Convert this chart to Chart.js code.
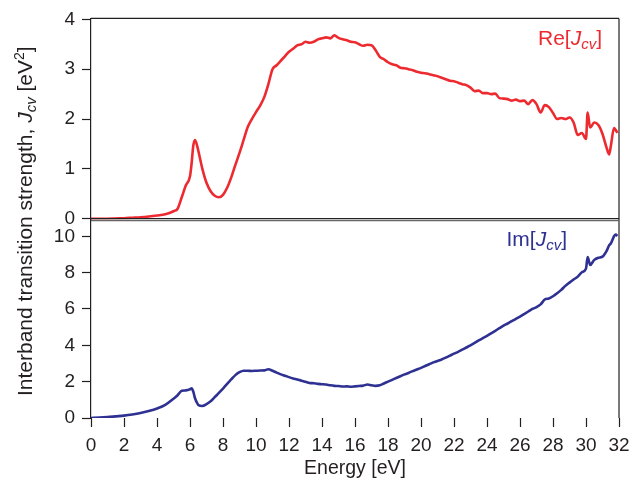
<!DOCTYPE html>
<html>
<head>
<meta charset="utf-8">
<script src="https://cdn.jsdelivr.net/npm/chart.js@4.4.0/dist/chart.umd.min.js"></script>
<style>
  html, body { margin: 0; padding: 0; background: #fff; }
</style>
</head>
<body>
<canvas id="grafico" width="643" height="493"></canvas>
<script>
// Energia [eV] (comun a las dos curvas)
const energia = [
  0, 0.5, 1, 1.5, 2, 2.5, 3, 3.5, 4, 4.5,
  5, 5.25, 5.5, 5.75, 6, 6.1, 6.2, 6.3, 6.4, 6.5,
  6.75, 7, 7.25, 7.5, 7.75, 8, 8.25, 8.5, 8.75, 9,
  9.25, 9.5, 9.75, 10, 10.25, 10.5, 10.75, 11, 11.25, 11.5,
  11.75, 12, 12.25, 12.5, 12.75, 13, 13.25, 13.5, 13.75, 14,
  14.25, 14.5, 14.75, 15, 15.25, 15.5, 15.75, 16, 16.25, 16.5,
  16.75, 17, 17.25, 17.5, 17.75, 18, 18.25, 18.5, 18.75, 19,
  19.25, 19.5, 19.75, 20, 20.25, 20.5, 20.75, 21, 21.25, 21.5,
  21.75, 22, 22.25, 22.5, 22.75, 23, 23.25, 23.5, 23.75, 24,
  24.25, 24.5, 24.75, 25, 25.25, 25.5, 25.75, 26, 26.25, 26.5,
  26.75, 27, 27.25, 27.5, 27.75, 28, 28.25, 28.5, 28.75, 29,
  29.25, 29.5, 29.75, 30, 30.1, 30.25, 30.5, 30.75, 31, 31.25,
  31.4, 31.5, 31.7, 31.8, 31.9
];

// Re[Jcv] [eV^2]
const reJcv = [
  0, 0, 0, 0.005, 0.01, 0.02, 0.03, 0.045, 0.065, 0.09,
  0.15, 0.2, 0.43, 0.67, 0.85, 1.12, 1.47, 1.58, 1.5, 1.37,
  1.0, 0.72, 0.55, 0.46, 0.43, 0.48, 0.62, 0.83, 1.08, 1.32,
  1.58, 1.84, 2.0, 2.14, 2.27, 2.44, 2.7, 3.0, 3.08, 3.17,
  3.26, 3.35, 3.41, 3.48, 3.5, 3.55, 3.53, 3.55, 3.6, 3.62,
  3.64, 3.62, 3.68, 3.63, 3.6, 3.58, 3.55, 3.54, 3.5, 3.47,
  3.49, 3.48, 3.38, 3.25, 3.2, 3.14, 3.1, 3.08, 3.03, 3.02,
  3.0, 2.98, 2.95, 2.93, 2.92, 2.9, 2.88, 2.86, 2.83, 2.8,
  2.77, 2.76, 2.73, 2.7, 2.68, 2.63, 2.56, 2.57, 2.52, 2.52,
  2.5, 2.51, 2.42, 2.41, 2.4, 2.37, 2.39, 2.36, 2.37, 2.3,
  2.38, 2.3, 2.13, 2.28, 2.24, 2.12, 2.0, 2.02, 2.0, 2.03,
  1.93, 1.68, 1.72, 1.6, 2.13, 1.83, 1.93, 1.88, 1.7, 1.42,
  1.29, 1.45, 1.82, 1.78, 1.72
];

// Im[Jcv] [eV^2]
const imJcv = [
  0, 0.02, 0.05, 0.09, 0.13, 0.19, 0.27, 0.38, 0.52, 0.72,
  1.06, 1.25, 1.5, 1.52, 1.58, 1.63, 1.45, 1.1, 0.88, 0.72,
  0.66, 0.76, 0.92, 1.15, 1.38, 1.62, 1.88, 2.12, 2.36, 2.52,
  2.6, 2.6, 2.59, 2.6, 2.61, 2.62, 2.68, 2.6, 2.5, 2.4,
  2.33, 2.25, 2.18, 2.12, 2.05, 1.99, 1.93, 1.91, 1.88, 1.86,
  1.84, 1.8, 1.77, 1.76, 1.73, 1.74, 1.72, 1.74, 1.76, 1.78,
  1.84, 1.8, 1.77, 1.8, 1.9, 2.0, 2.1, 2.2, 2.3, 2.4,
  2.48, 2.58, 2.67, 2.76, 2.86, 2.96, 3.06, 3.14, 3.22, 3.32,
  3.43, 3.54, 3.64, 3.76, 3.88, 4.0, 4.13, 4.27, 4.4, 4.52,
  4.66, 4.8, 4.94, 5.08, 5.2, 5.33, 5.46, 5.58, 5.72, 5.86,
  6.0, 6.1, 6.25, 6.52, 6.58, 6.7, 6.86, 7.05, 7.27, 7.45,
  7.62, 7.78, 8.02, 8.22, 8.85, 8.42, 8.7, 8.82, 8.88, 9.2,
  9.5, 9.6, 10.0, 10.1, 10.02
];

// Marcas de los ejes
const ticksX = [0, 2, 4, 6, 8, 10, 12, 14, 16, 18, 20, 22, 24, 26, 28, 30, 32];
const ticksRe = [0, 1, 2, 3, 4];
const ticksIm = [0, 2, 4, 6, 8, 10];

const colorRe = '#ec2a30';
const colorIm = '#2e3192';
const colorEje = '#231f20';
const fuente = '"Liberation Sans", Arial, Helvetica, sans-serif';

//Para escribir texto con cursiva, subindices y superindices
function textoRico(ctx, partes, x, y, align, tam) {
  let total = 0;
  partes.forEach(p => {
    ctx.font = (p.it ? 'italic ' : '') + (p.size || tam) + 'px ' + fuente;
    p.w = ctx.measureText(p.t).width;
    total += p.w;
  });
  let cx = align === 'center' ? x - total / 2 : (align === 'right' ? x - total : x);
  ctx.textAlign = 'left';
  ctx.textBaseline = 'alphabetic';
  partes.forEach(p => {
    ctx.font = (p.it ? 'italic ' : '') + (p.size || tam) + 'px ' + fuente;
    ctx.fillText(p.t, cx, y + (p.dy || 0));
    cx += p.w;
  });
}

function linea(ctx, x1, y1, x2, y2) {
  ctx.beginPath();
  ctx.moveTo(x1, y1);
  ctx.lineTo(x2, y2);
  ctx.stroke();
}

const marcoYTextos = {
  id: 'marcoYTextos',
  afterDraw(chart) {
    const ctx = chart.ctx;
    const area = chart.chartArea;
    const yRe = chart.scales.yRe;
    const yIm = chart.scales.yIm;
    ctx.save();
    ctx.lineWidth = 1.2;
    ctx.strokeStyle = colorEje;
    linea(ctx, area.left, area.top, area.right, area.top);
    linea(ctx, area.right, area.top, area.right, area.bottom);
    const cero = yRe.getPixelForValue(0);
    linea(ctx, area.left, cero, area.right, cero);
    ctx.strokeStyle = '#666';
    linea(ctx, area.left, yIm.top + 1.5, area.right, yIm.top + 1.5);

    // etiquetas de las curvas
    ctx.fillStyle = colorRe;
    textoRico(ctx, [
      {t: 'Re['}, {t: 'J', it: true}, {t: 'cv', it: true, size: 15, dy: 4}, {t: ']'}
    ], area.right - 17, area.top + 27, 'right', 21);
    ctx.fillStyle = colorIm;
    textoRico(ctx, [
      {t: 'Im['}, {t: 'J', it: true}, {t: 'cv', it: true, size: 15, dy: 4}, {t: ']'}
    ], area.right - 52, yIm.top + 27, 'right', 21);

    // titulo eje x
    ctx.fillStyle = colorEje;
    textoRico(ctx, [{t: 'Energy [eV]'}], (area.left + area.right) / 2, 474, 'center', 19.5);

    // titulo eje y
    ctx.translate(32, (area.top + area.bottom) / 2 + 3);
    ctx.rotate(-Math.PI / 2);
    textoRico(ctx, [
      {t: 'Interband transition strength, '}, {t: 'J', it: true},
      {t: 'cv', it: true, size: 15, dy: 4}, {t: ' [eV'}, {t: '2', size: 14, dy: -8}, {t: ']'}
    ], 0, 0, 'center', 21);
    ctx.restore();
  }
};

const ejeY = (ticks, min, max, peso) => ({
  type: 'linear',
  position: 'left',
  stack: 'paneles',
  stackWeight: peso,
  min: min,
  max: max,
  afterFit: s => { s.width = 91; },
  afterBuildTicks: s => { s.ticks = ticks.map(v => ({value: v})); },
  grid: {display: true, drawOnChartArea: false, drawTicks: true, tickLength: 9, tickWidth: 1.2, tickColor: colorEje},
  border: {display: true, color: colorEje, width: 1.2},
  ticks: {padding: 7, color: colorEje, font: {family: fuente, size: 19}, autoSkip: false}
});

let graf = new Chart(document.getElementById('grafico').getContext('2d'), {
  type: 'line',
  data: {
    datasets: [{
      label: 'Re[Jcv]',
      data: energia.map((e, i) => ({x: e, y: reJcv[i]})),
      yAxisID: 'yRe',
      borderColor: colorRe,
      borderWidth: 2.6,
      pointRadius: 0,
      cubicInterpolationMode: 'monotone'
    }, {
      label: 'Im[Jcv]',
      data: energia.map((e, i) => ({x: e, y: imJcv[i]})),
      yAxisID: 'yIm',
      borderColor: colorIm,
      borderWidth: 2.6,
      pointRadius: 0,
      cubicInterpolationMode: 'monotone'
    }]
  },
  options: {
    responsive: false,
    animation: false,
    layout: {padding: {top: 14, right: 24, bottom: 0, left: 0}},
    plugins: {legend: {display: false}, tooltip: {enabled: false}},
    scales: {
      x: {
        type: 'linear',
        min: 0,
        max: 32,
        afterFit: s => { s.height = 75; },
        afterBuildTicks: s => { s.ticks = ticksX.map(v => ({value: v})); },
        grid: {display: true, drawOnChartArea: false, drawTicks: true, tickLength: 9, tickWidth: 1.2, tickColor: colorEje},
        border: {display: false},
        ticks: {padding: 7, color: colorEje, font: {family: fuente, size: 19}, autoSkip: false, maxRotation: 0}
      },
      yIm: ejeY(ticksIm, 0, 10.94, 201),
      yRe: ejeY(ticksRe, -0.01, 4.02, 203)
    }
  },
  plugins: [marcoYTextos]
});
</script>
</body>
</html>
